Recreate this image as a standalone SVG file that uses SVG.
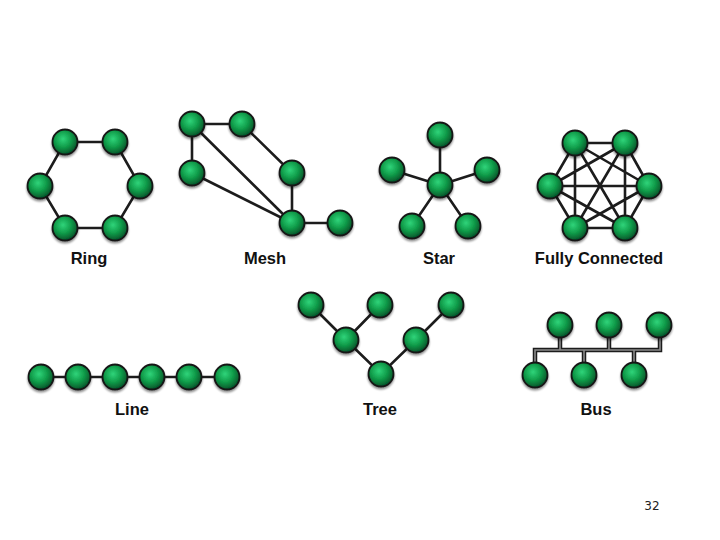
<svg xmlns="http://www.w3.org/2000/svg" width="720" height="540" viewBox="0 0 720 540">
<defs>
<radialGradient id="g" cx="0.42" cy="0.38" r="0.62">
<stop offset="0" stop-color="#2fd47a"/>
<stop offset="0.55" stop-color="#0f9a48"/>
<stop offset="1" stop-color="#04532a"/>
</radialGradient>
<filter id="sh" x="-30%" y="-30%" width="160%" height="170%">
<feGaussianBlur in="SourceAlpha" stdDeviation="1.2"/>
<feOffset dx="0" dy="1.5" result="b"/>
<feComponentTransfer><feFuncA type="linear" slope="0.45"/></feComponentTransfer>
<feMerge><feMergeNode/><feMergeNode in="SourceGraphic"/></feMerge>
</filter>
<circle id="n" r="12.5"/>
</defs>
<style>
.e{stroke:#1c1c1c;stroke-width:2.6;fill:none;stroke-linecap:round}
.nd use{fill:url(#g);stroke:#141414;stroke-width:1.8;filter:url(#sh)}
.lb{font-family:"Liberation Sans",Arial,sans-serif;font-weight:bold;font-size:16.5px;fill:#111;text-anchor:middle}
.pg{font-family:"DejaVu Sans","Liberation Sans",sans-serif;font-size:12px;fill:#222;text-anchor:middle}
.bus{stroke:#1c1c1c;stroke-width:4.5;fill:none}
.busin{stroke:#8a8a8a;stroke-width:1.6;fill:none}
</style>
<rect width="720" height="540" fill="#fff"/>
<g id="connectors">
<polygon class="e" points="65,142 115,142 140,186 115,228 65,228 40,186"/>
<path class="e" d="M192,124H242M192,124V173M192,124L292,223M242,124L292,173M192,173L292,223M292,173V223M292,223H340"/>
<path class="e" d="M440,185L440,135M440,185L392,170M440,185L487,170M440,185L412,226M440,185L468,226"/>
<path class="e" d="M575,143L625,143M575,143L550,186M575,143L649,186M575,143L575,228M575,143L625,228M625,143L550,186M625,143L649,186M625,143L575,228M625,143L625,228M550,186L649,186M550,186L575,228M550,186L625,228M649,186L575,228M649,186L625,228M575,228L625,228"/>
<path class="e" d="M41,377H227"/>
<path class="e" d="M311,305L346,340L381,374L416,340L451,305M380,305L346,340"/>
<path class="bus" d="M535,375V350H660V325M560,325V350M609,325V350M584,350V375M634,350V375"/>
<path class="busin" d="M535,372V350H660V328M560,328V350M609,328V350M584,350V372M634,350V372"/>
</g>
<g id="ring" class="nd">
<use href="#n" x="65" y="142"/><use href="#n" x="115" y="142"/><use href="#n" x="40" y="186"/><use href="#n" x="140" y="186"/><use href="#n" x="65" y="228"/><use href="#n" x="115" y="228"/>
</g>
<g id="mesh" class="nd">
<use href="#n" x="192" y="124"/><use href="#n" x="242" y="124"/><use href="#n" x="192" y="173"/><use href="#n" x="292" y="173"/><use href="#n" x="292" y="223"/><use href="#n" x="340" y="223"/>
</g>
<g id="star" class="nd">
<use href="#n" x="440" y="135"/><use href="#n" x="392" y="170"/><use href="#n" x="487" y="170"/><use href="#n" x="440" y="185"/><use href="#n" x="412" y="226"/><use href="#n" x="468" y="226"/>
</g>
<g id="fully" class="nd">
<use href="#n" x="575" y="143"/><use href="#n" x="625" y="143"/><use href="#n" x="550" y="186"/><use href="#n" x="649" y="186"/><use href="#n" x="575" y="228"/><use href="#n" x="625" y="228"/>
</g>
<g id="line" class="nd">
<use href="#n" x="41" y="377"/><use href="#n" x="78" y="377"/><use href="#n" x="115" y="377"/><use href="#n" x="152" y="377"/><use href="#n" x="189" y="377"/><use href="#n" x="227" y="377"/>
</g>
<g id="tree" class="nd">
<use href="#n" x="311" y="305"/><use href="#n" x="380" y="305"/><use href="#n" x="451" y="305"/><use href="#n" x="346" y="340"/><use href="#n" x="416" y="340"/><use href="#n" x="381" y="374"/>
</g>
<g id="busnodes" class="nd">
<use href="#n" x="560" y="325"/><use href="#n" x="609" y="325"/><use href="#n" x="659" y="325"/><use href="#n" x="535" y="375"/><use href="#n" x="584" y="375"/><use href="#n" x="634" y="375"/>
</g>
<g id="labels">
<text class="lb" x="89" y="264">Ring</text>
<text class="lb" x="265" y="264">Mesh</text>
<text class="lb" x="439" y="264">Star</text>
<text class="lb" x="599" y="264">Fully Connected</text>
<text class="lb" x="132" y="415">Line</text>
<text class="lb" x="380" y="415">Tree</text>
<text class="lb" x="596" y="415">Bus</text>
<text class="pg" x="652" y="510">32</text>
</g>
</svg>
